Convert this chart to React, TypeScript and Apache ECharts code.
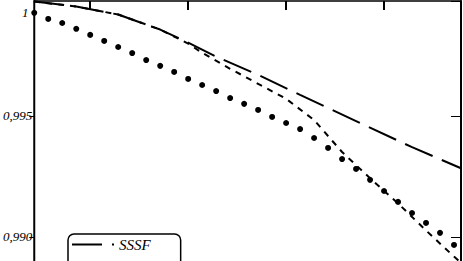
import React, { useEffect, useRef } from "react";
import * as echarts from "echarts";

// x positions (index units) of the round-dot series
const dotX = [1, 2, 3, 4, 5, 6, 7, 8, 9, 10, 11, 12, 13, 14, 15, 16, 17, 18, 19, 20, 21, 22, 23, 24, 25, 26, 27, 28, 29, 30, 31];
const dotY = [
  0.99926, 0.99901, 0.99884, 0.9986, 0.99835, 0.9981, 0.99785, 0.9976, 0.99731, 0.99707,
  0.99682, 0.99653, 0.99628, 0.99603, 0.99574, 0.9955, 0.99525, 0.99496, 0.99471, 0.99446,
  0.99409, 0.99368, 0.99322, 0.99281, 0.99236, 0.9919, 0.99145, 0.99099, 0.99058, 0.99017, 0.98967,
];

// SSSF (long dash)
const sssfX = [1, 4, 7, 10, 12, 14, 17, 20, 24, 28, 31.5];
const sssfY = [0.99973, 0.99952, 0.99919, 0.99857, 0.99803, 0.99745, 0.9967, 0.99587, 0.99479, 0.99371, 0.99284];

// short dash series
const shortX = [1, 4, 7, 10, 12, 13, 15, 17, 19, 21, 23, 25, 27, 29, 31, 31.5];
const shortY = [0.99973, 0.99952, 0.99919, 0.99857, 0.99799, 0.99761, 0.99695, 0.99633, 0.99571, 0.99483, 0.99351, 0.99243, 0.99139, 0.99027, 0.98919, 0.98894];

const xTicks = [5, 12, 19, 26];
const legendNames = ["SSSF"];
const topLabel = "1";

const FONT = "Liberation Serif";

export default function App() {
  const ref = useRef<HTMLDivElement>(null);
  useEffect(() => {
    if (!ref.current) return;
    const chart = echarts.init(ref.current, null, { renderer: "svg" });
    const zip = (xs: number[], ys: number[]) => xs.map((x, i) => [x, ys[i]]);
    chart.setOption({
      animation: false,
      backgroundColor: "#fff",
      grid: { left: 34, right: 2, top: 1, height: 357 },
      xAxis: [
        {
          type: "value",
          min: 1,
          max: 31.5,
          position: "bottom",
          axisLine: { show: true, lineStyle: { color: "#000", width: 2 } },
          axisTick: { show: false },
          axisLabel: { show: false },
          splitLine: { show: false },
        },
        {
          type: "value",
          min: 1,
          max: 31.5,
          position: "top",
          axisLine: { show: true, onZero: false, lineStyle: { color: "#000", width: 1.5 } },
          axisTick: { show: true, inside: true, length: 9, customValues: xTicks, lineStyle: { color: "#000", width: 2 } },
          axisLabel: { show: false },
          splitLine: { show: false },
        },
      ],
      yAxis: [
        {
          type: "value",
          min: 0.985,
          max: 0.99975,
          interval: 0.005,
          position: "left",
          axisLine: { show: true, onZero: false, lineStyle: { color: "#000", width: 2 } },
          axisTick: { show: true, inside: false, length: 5, lineStyle: { color: "#000", width: 1 } },
          axisLabel: {
            show: true,
            showMaxLabel: false,
            showMinLabel: false,
            margin: 2,
            color: "#000",
            fontFamily: FONT,
            fontStyle: "italic",
            fontSize: 13,
            formatter: (v: number) => v.toFixed(3).replace(".", ","),
          },
          splitLine: { show: false },
        },
        {
          type: "value",
          min: 0.985,
          max: 0.99975,
          interval: 0.005,
          position: "right",
          axisLine: { show: true, onZero: false, lineStyle: { color: "#000", width: 2 } },
          axisTick: { show: true, inside: true, length: 10, lineStyle: { color: "#000", width: 1 } },
          axisLabel: { show: false },
          splitLine: { show: false },
        },
      ],
      legend: {
        data: legendNames,
        orient: "vertical",
        left: 68,
        top: 234,
        borderColor: "#000",
        borderWidth: 1.5,
        borderRadius: 6,
        padding: [3, 30, 40, 3],
        itemWidth: 42,
        itemHeight: 14,
        itemStyle: { opacity: 0 },
        textStyle: { color: "#000", fontFamily: FONT, fontStyle: "italic", fontSize: 15 },
      },
      graphic: [
        {
          type: "text",
          left: 22,
          top: 6,
          style: { text: topLabel, fill: "#000", font: `italic 13px '${FONT}'` },
        },
      ],
      series: [
        {
          type: "scatter",
          name: "dots",
          data: zip(dotX, dotY),
          symbol: "circle",
          symbolSize: 6,
          itemStyle: { color: "#000", opacity: 1 },
        },
        {
          type: "line",
          name: "SSSF",
          data: zip(sssfX, sssfY),
          symbol: "none",
          lineStyle: { color: "#000", width: 2, type: [30, 10] },
          itemStyle: { color: "#000" },
        },
        {
          type: "line",
          name: "short",
          data: zip(shortX, shortY),
          symbol: "none",
          lineStyle: { color: "#000", width: 2, type: [6, 6] },
          itemStyle: { color: "#000" },
        },
      ],
    });
    return () => chart.dispose();
  }, []);
  return (
    <div
      ref={ref}
      style={{ position: "fixed", left: 0, top: 0, width: 463, height: 400 }}
    />
  );
}
